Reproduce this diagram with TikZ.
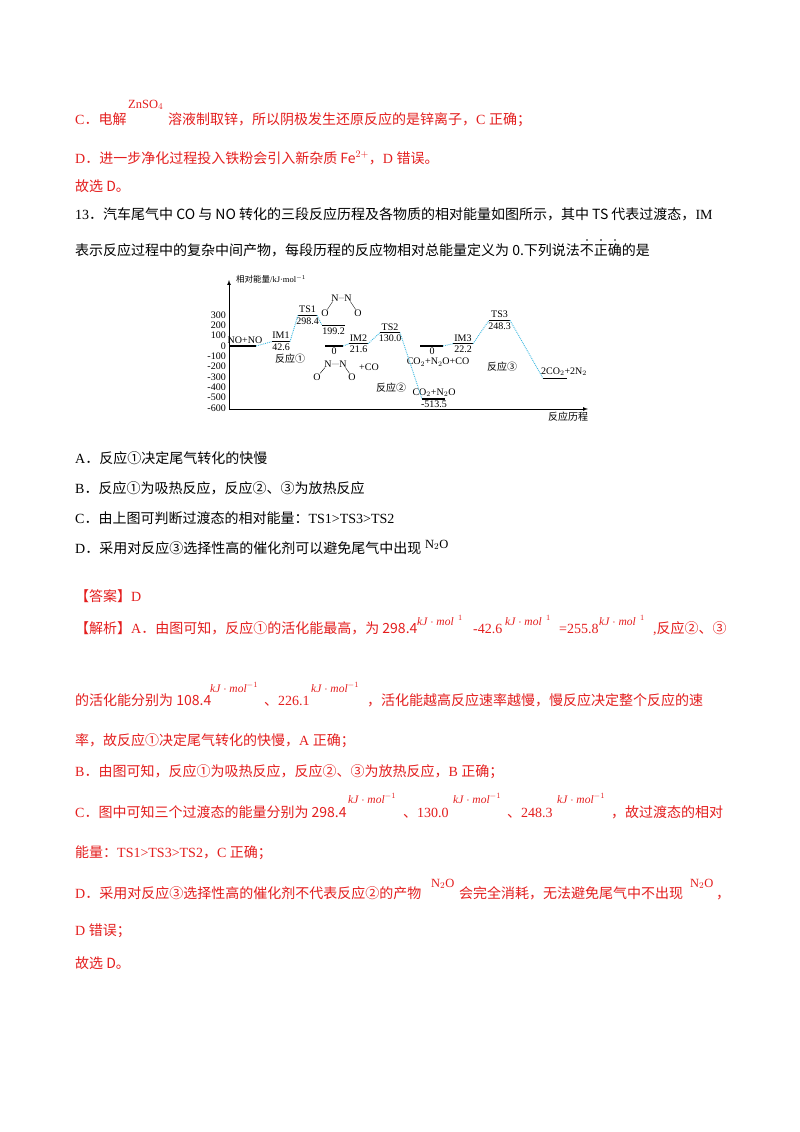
\documentclass[tikz,border=0pt]{standalone}
\usepackage{fontspec}
\setmainfont{Liberation Serif}
\newfontfamily\cjk{Noto Sans CJK SC}
\XeTeXinterchartokenstate=1
\newXeTeXintercharclass\cjkclass
\makeatletter
\def\setcjkrange#1#2{\count@=#1\relax\loop\XeTeXcharclass\count@=\cjkclass\ifnum\count@<#2\advance\count@ 1\repeat}
\setcjkrange{"4E00}{"9FFF}
\setcjkrange{"3000}{"303F}
\setcjkrange{"FF00}{"FFEF}
\setcjkrange{"2460}{"2473}
\makeatother
\XeTeXinterchartoks 0 \cjkclass = {\cjk}
\XeTeXinterchartoks 4095 \cjkclass = {\cjk}
\XeTeXinterchartoks \cjkclass 0 = {\rmfamily}
\definecolor{rd}{RGB}{228,30,30}
\definecolor{cy}{RGB}{60,185,225}
\begin{document}
\begin{tikzpicture}[x=1pt,y=-1pt,
 t/.style={anchor=base west,inner sep=0,font=\fontsize{14}{16}\selectfont},
 s/.style={anchor=base west,inner sep=0,font=\fontsize{12.5}{14}\selectfont},
 u/.style={anchor=base west,inner sep=0,font=\fontsize{11.5}{13}\selectfont\itshape},
 r/.style={text=rd},
 lv/.style={line width=1.1pt},
 cn/.style={cy,densely dotted,line width=0.9pt},
 c/.style={inner sep=0,font=\fontsize{10}{11}\selectfont},
 ab/.style={c,anchor=south},
 bl/.style={c,anchor=north}]
\useasboundingbox (0,0) rectangle (800,1132);
\fill[white] (0,0) rectangle (800,1132);
% ---- top text
\node[t,r] (c1) at (75,124) {C．电解};
\node[s,r] (c1z) at (128,108) {ZnSO$_4$};
\node[t,r] (c1b) at (168,124) {溶液制取锌，所以阴极发生还原反应的是锌离子，C 正确；};
\node[t,r] (d1) at (75,163) {D．进一步净化过程投入铁粉会引入新杂质 Fe$^{2+}$，D 错误。};
\node[t,r] (g1) at (75,191) {故选 D。};
\node[t] (q1) at (75,219) {13．汽车尾气中 CO 与 NO 转化的三段反应历程及各物质的相对能量如图所示，其中 TS 代表过渡态，IM};
\node[t] (q2) at (75,255) {表示反应过程中的复杂中间产物，每段历程的反应物相对总能量定义为 0.下列说法不正确的是};
\foreach \xx in {587,601,615} \fill (\xx,240) circle (0.9);
% ---- chart
\draw[-latex,line width=0.7pt] (229,409) -- (229,280);
\draw[-latex,line width=0.7pt] (229,409) -- (588,409);
\node[c,anchor=west,font=\fontsize{8.5}{9}\selectfont] (yl) at (236,279) {相对能量/kJ·mol$^{-1}$};
\node[c,anchor=north] (xl) at (568,412) {反应历程};
\foreach \v in {300,200,...,-600} \node[c,anchor=east] at (226,{346-\v*0.1033}) {\v};
% levels
\coordinate (a1) at (229,346); \coordinate (a2) at (256,346);
\draw[lv] (a1)--(a2); \node[ab] at (245,344) {NO+NO};
\coordinate (b1) at (272,341.6); \coordinate (b2) at (290,341.6);
\draw[lv] (b1)--(b2); \node[ab] at (281,339) {IM1}; \node[bl] at (281,344) {42.6};
\coordinate (e1) at (298,315.2); \coordinate (e2) at (317,315.2);
\draw[lv] (e1)--(e2); \node[ab] at (307.5,313) {TS1}; \node[bl] at (307.5,317.5) {298.4};
\coordinate (f1) at (322,325.4); \coordinate (f2) at (345,325.4);
\draw[lv] (f1)--(f2); \node[bl] at (333.5,328) {199.2};
\coordinate (g1c) at (325,346); \coordinate (g2c) at (343,346);
\draw[lv] (g1c)--(g2c); \node[bl] at (334,348) {0};
\coordinate (h1) at (349,343.8); \coordinate (h2) at (368,343.8);
\draw[lv] (h1)--(h2); \node[ab] at (358.5,341.5) {IM2}; \node[bl] at (358.5,346) {21.6};
\coordinate (i1) at (380,332.6); \coordinate (i2) at (400,332.6);
\draw[lv] (i1)--(i2); \node[ab] at (390,330.5) {TS2}; \node[bl] at (390,335) {130.0};
\coordinate (j1) at (422,399); \coordinate (j2) at (445,399);
\draw[lv] (j1)--(j2); \node[ab] at (434,397) {CO$_2$+N$_2$O}; \node[bl] at (434,401) {-513.5};
\coordinate (k1) at (420,346); \coordinate (k2) at (443,346);
\draw[lv] (k1)--(k2); \node[bl] at (432,348) {0}; \node[bl] at (438,358) {CO$_2$+N$_2$O+CO};
\coordinate (l1) at (453,343.7); \coordinate (l2) at (473,343.7);
\draw[lv] (l1)--(l2); \node[ab] at (463,341.5) {IM3}; \node[bl] at (463,346) {22.2};
\coordinate (m1) at (489,320.3); \coordinate (m2) at (510,320.3);
\draw[lv] (m1)--(m2); \node[ab] at (499.5,318) {TS3}; \node[bl] at (499.5,322.5) {248.3};
\coordinate (n1) at (543,378.3); \coordinate (n2) at (567,378.3);
\draw[lv] (n1)--(n2); \node[ab] at (564,376) {2CO$_2$+2N$_2$};
% connectors
\draw[cn] (a2)--(b1); \draw[cn] (b2)--(e1); \draw[cn] (e2)--(f1);
\draw[cn] (g2c)--(h1); \draw[cn] (h2)--(i1); \draw[cn] (i2)--(j1);
\draw[cn] (k2)--(l1); \draw[cn] (l2)--(m1); \draw[cn] (m2)--(n1);
% reaction labels
\node[c] at (290,359) {反应①}; \node[c] at (391,388) {反应②}; \node[c] at (502,367) {反应③};
% molecules
\node[c] (o1) at (325,313) {O}; \node[c] (n1a) at (335,298) {N};
\node[c] (n2a) at (348,298) {N}; \node[c] (o2) at (358,313) {O};
\draw[line width=0.4pt] (o1)--(n1a) (n1a)--(n2a) (n2a)--(o2);
\node[c] (o3) at (317,377) {O}; \node[c] (n3) at (328,364) {N};
\node[c] (n4) at (343,364) {N}; \node[c] (o4) at (352,377) {O};
\draw[line width=0.4pt] (o3)--(n3) (n3)--(n4) (n4)--(o4);
\node[c] at (369,367) {+CO};
% ---- options
\node[t] at (75,463) {A．反应①决定尾气转化的快慢};
\node[t] at (75,493) {B．反应①为吸热反应，反应②、③为放热反应};
\node[t] at (75,523) {C．由上图可判断过渡态的相对能量：TS1>TS3>TS2};
\node[t] at (75,553) {D．采用对反应③选择性高的催化剂可以避免尾气中出现};
\node[s] at (425,548) {N$_2$O};
\node[t,r] at (75,601) {【答案】D};
% ---- analysis
\node[t,r] at (75,633) {【解析】A．由图可知，反应①的活化能最高，为 298.4};
\node[u,r] at (417,625) {kJ $\cdot$ mol $^{\,1}$};
\node[t,r] at (473,633) {-42.6};
\node[u,r] at (505,625) {kJ $\cdot$ mol $^{\,1}$};
\node[t,r] at (559,633) {=255.8};
\node[u,r] at (599,625) {kJ $\cdot$ mol $^{\,1}$};
\node[t,r] at (653,633) {,反应②、③};
\node[t,r] at (75,705) {的活化能分别为 108.4};
\node[u,r] at (210,692) {kJ $\cdot$ mol$^{-1}$};
\node[t,r] at (264,705) {、226.1};
\node[u,r] at (311,692) {kJ $\cdot$ mol$^{-1}$};
\node[t,r] at (367,705) {，活化能越高反应速率越慢，慢反应决定整个反应的速};
\node[t,r] at (75,745) {率，故反应①决定尾气转化的快慢，A 正确；};
\node[t,r] at (75,776) {B．由图可知，反应①为吸热反应，反应②、③为放热反应，B 正确；};
\node[t,r] at (75,817) {C．图中可知三个过渡态的能量分别为 298.4};
\node[u,r] at (348,803) {kJ $\cdot$ mol$^{-1}$};
\node[t,r] at (403,817) {、130.0};
\node[u,r] at (453,803) {kJ $\cdot$ mol$^{-1}$};
\node[t,r] at (507,817) {、248.3};
\node[u,r] at (557,803) {kJ $\cdot$ mol$^{-1}$};
\node[t,r] at (611,817) {，故过渡态的相对};
\node[t,r] at (75,857) {能量：TS1>TS3>TS2，C 正确；};
\node[t,r] at (75,898) {D．采用对反应③选择性高的催化剂不代表反应②的产物};
\node[s,r] at (431,887) {N$_2$O};
\node[t,r] at (459,898) {会完全消耗，无法避免尾气中不出现};
\node[s,r] at (690,887) {N$_2$O};
\node[t,r] at (716,898) {，};
\node[t,r] at (75,935) {D 错误；};
\node[t,r] at (75,968) {故选 D。};
\end{tikzpicture}
\end{document}
